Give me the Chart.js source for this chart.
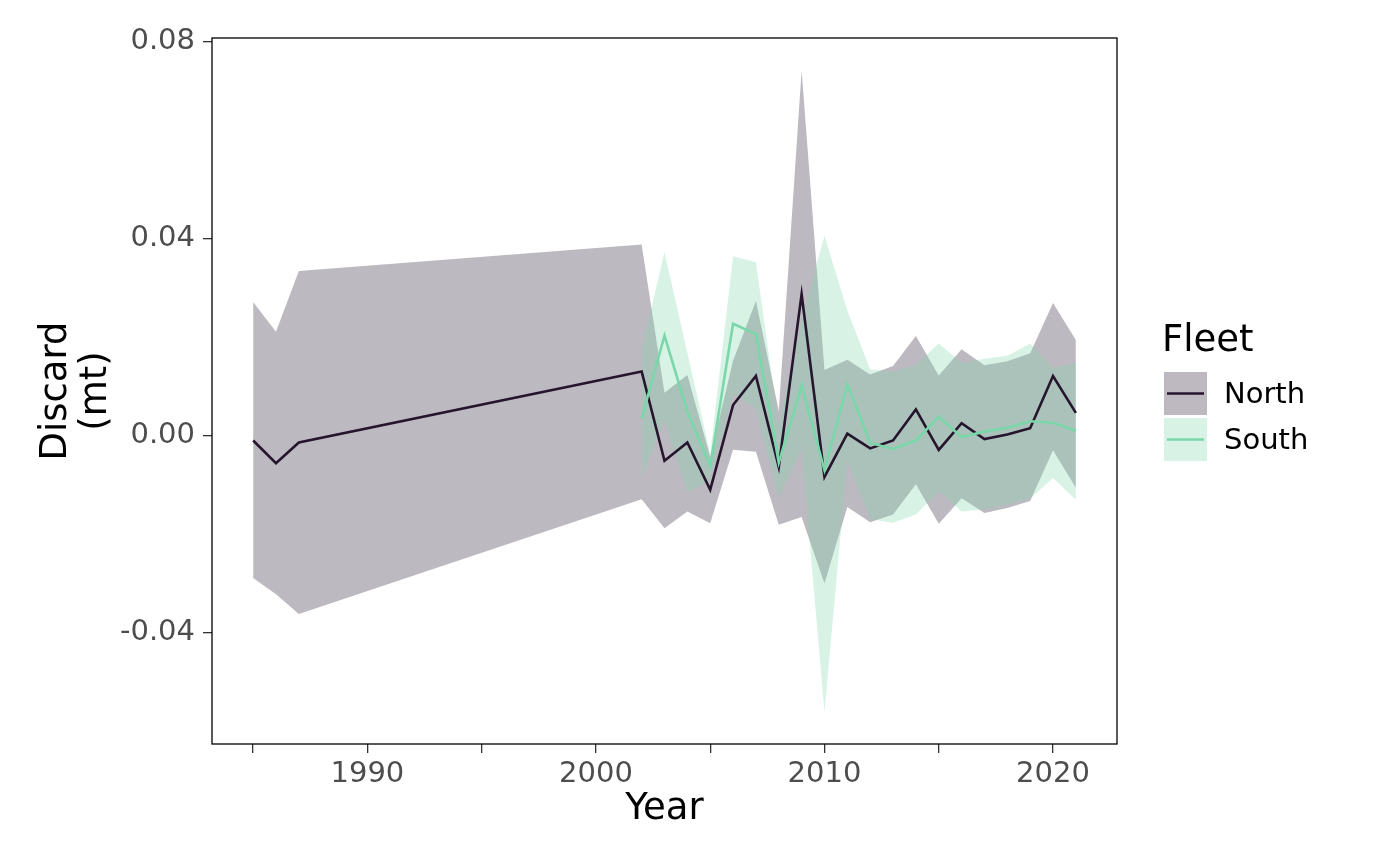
<!DOCTYPE html>
<html>
<head>
<meta charset="utf-8">
<script src="https://cdn.jsdelivr.net/npm/chart.js@4/dist/chart.umd.min.js"></script>
<style>
  body { margin: 0; background: #fff; }
  #wrap { width: 1400px; height: 866px; position: relative; }
</style>
</head>
<body>
<div id="wrap"><canvas id="myChart"></canvas></div>
<script>
// values
const northYears = [1985, 1986, 1987, 2002, 2003, 2004, 2005, 2006, 2007, 2008, 2009, 2010, 2011, 2012, 2013, 2014, 2015, 2016, 2017, 2018, 2019, 2020, 2021];
const northEst   = [-0.0010, -0.0056, -0.0014, 0.0130, -0.0051, -0.0014, -0.0110, 0.0062, 0.0121, -0.0064, 0.0287, -0.0084, 0.0004, -0.0026, -0.0010, 0.0053, -0.0029, 0.0025, -0.0007, 0.0002, 0.0015, 0.0121, 0.0046];
const northUpper = [0.0271, 0.0211, 0.0334, 0.0388, 0.0087, 0.0123, -0.0043, 0.0152, 0.0273, 0.0050, 0.0741, 0.0133, 0.0154, 0.0124, 0.0141, 0.0202, 0.0122, 0.0175, 0.0143, 0.0151, 0.0167, 0.0269, 0.0194];
const northLower = [-0.0289, -0.0322, -0.0362, -0.0129, -0.0188, -0.0154, -0.0178, -0.0029, -0.0033, -0.0181, -0.0165, -0.0300, -0.0145, -0.0176, -0.0160, -0.0099, -0.0179, -0.0127, -0.0157, -0.0147, -0.0133, -0.0030, -0.0106];

const southYears = [2002, 2003, 2004, 2005, 2006, 2007, 2008, 2009, 2010, 2011, 2012, 2013, 2014, 2015, 2016, 2017, 2018, 2019, 2020, 2021];
const southEst   = [0.0035, 0.0203, 0.0049, -0.0062, 0.0227, 0.0206, -0.0055, 0.0102, -0.0070, 0.0104, -0.0015, -0.0027, -0.0010, 0.0038, -0.0003, 0.0008, 0.0016, 0.0029, 0.0026, 0.0010];
const southUpper = [0.0175, 0.0372, 0.0168, -0.0037, 0.0364, 0.0352, 0.0020, 0.0235, 0.0405, 0.0254, 0.0134, 0.0130, 0.0144, 0.0187, 0.0148, 0.0156, 0.0162, 0.0187, 0.0137, 0.0148];
const southLower = [-0.0085, 0.0030, -0.0116, -0.0090, 0.0085, 0.0055, -0.0127, -0.0028, -0.0561, -0.0050, -0.0170, -0.0177, -0.0160, -0.0113, -0.0154, -0.0150, -0.0140, -0.0128, -0.0086, -0.0130];

const xTicks = [1985, 1990, 1995, 2000, 2005, 2010, 2015, 2020];
const yTicks = [-0.04, 0, 0.04, 0.08];
const fleets = ['North', 'South'];

const northCol = 'rgb(38, 22, 45)';
const northFill = 'rgba(38, 22, 45, 0.3)';
const southCol = 'rgb(121, 215, 170)';
const southFill = 'rgba(125, 215, 172, 0.3)';

const pairs = (xs, ys) => xs.map((x, i) => ({x: x, y: ys[i]}));

Chart.defaults.font.family = "'DejaVu Sans', sans-serif";

const band = (data, fill, color, order) => ({
  data: data,
  borderWidth: 0,
  pointRadius: 0,
  fill: fill,
  backgroundColor: color,
  order: order
});

const panelAndLegend = {
  id: 'panelAndLegend',
  afterDraw(chart) {
    const ctx = chart.ctx;
    const a = chart.chartArea;
    ctx.save();
    ctx.strokeStyle = '#000';
    ctx.lineWidth = 1.3;
    ctx.strokeRect(a.left, a.top, a.right - a.left, a.bottom - a.top);

    // legend
    ctx.fillStyle = '#000';
    ctx.textBaseline = 'middle';
    ctx.textAlign = 'left';
    ctx.font = "37px 'DejaVu Sans'";
    ctx.fillText('Fleet', 1162, 341);
    const fills = ['rgb(190, 185, 192)', 'rgb(216, 243, 230)'];
    const lines = [northCol, southCol];
    ctx.font = "29px 'DejaVu Sans'";
    fleets.forEach((name, i) => {
      const y = 372 + i * 46;
      ctx.fillStyle = fills[i];
      ctx.fillRect(1164, y, 43, 43);
      ctx.strokeStyle = lines[i];
      ctx.lineWidth = 2.6;
      ctx.beginPath();
      ctx.moveTo(1167, y + 21.5);
      ctx.lineTo(1204, y + 21.5);
      ctx.stroke();
      ctx.fillStyle = '#000';
      ctx.fillText(name, 1224, y + 23);
    });
    ctx.restore();
  }
};

new Chart(document.getElementById('myChart'), {
  type: 'line',
  data: {
    datasets: [
      band(pairs(northYears, northLower), false, northFill, 4),
      band(pairs(northYears, northUpper), '-1', northFill, 4),
      band(pairs(southYears, southLower), false, southFill, 3),
      band(pairs(southYears, southUpper), '-1', southFill, 3),
      {
        label: 'North',
        data: pairs(northYears, northEst),
        borderColor: northCol,
        borderWidth: 2.6,
        pointRadius: 0,
        fill: false,
        order: 2
      },
      {
        label: 'South',
        data: pairs(southYears, southEst),
        borderColor: southCol,
        borderWidth: 2.6,
        pointRadius: 0,
        fill: false,
        order: 1
      }
    ]
  },
  options: {
    responsive: true,
    maintainAspectRatio: false,
    animation: false,
    devicePixelRatio: 1,
    layout: { padding: { top: 38, right: 283, bottom: 0, left: 0 } },
    plugins: {
      legend: { display: false },
      tooltip: { enabled: false }
    },
    scales: {
      x: {
        type: 'linear',
        min: 1983.2,
        max: 2022.8,
        afterBuildTicks: s => { s.ticks = xTicks.map(v => ({value: v})); },
        afterFit: s => { s.height = 122; },
        ticks: {
          autoSkip: false,
          maxRotation: 0,
          padding: 4,
          color: '#4d4d4d',
          font: { size: 29 },
          callback: v => (v % 10 === 0 ? String(v) : '')
        },
        grid: { drawOnChartArea: false, drawTicks: true, tickLength: 9, color: '#333', lineWidth: 1.3 },
        border: { display: false },
        title: {
          display: true,
          text: 'Year',
          color: '#000',
          font: { size: 37, lineHeight: 1.2 },
          padding: { top: 0, bottom: 34 }
        }
      },
      y: {
        min: -0.0626,
        max: 0.0807,
        afterBuildTicks: s => { s.ticks = yTicks.map(v => ({value: v})); },
        afterFit: s => { s.width = 212; },
        ticks: {
          padding: 8,
          color: '#4d4d4d',
          font: { size: 29 },
          callback: v => v.toFixed(2)
        },
        grid: { drawOnChartArea: false, drawTicks: true, tickLength: 9, color: '#333', lineWidth: 1.3 },
        border: { display: false },
        title: {
          display: true,
          text: ['Discard', '(mt)'],
          color: '#000',
          font: { size: 37, lineHeight: 40 / 37 },
          padding: { top: 36, bottom: 0 }
        }
      }
    }
  },
  plugins: [panelAndLegend]
});
</script>
</body>
</html>
